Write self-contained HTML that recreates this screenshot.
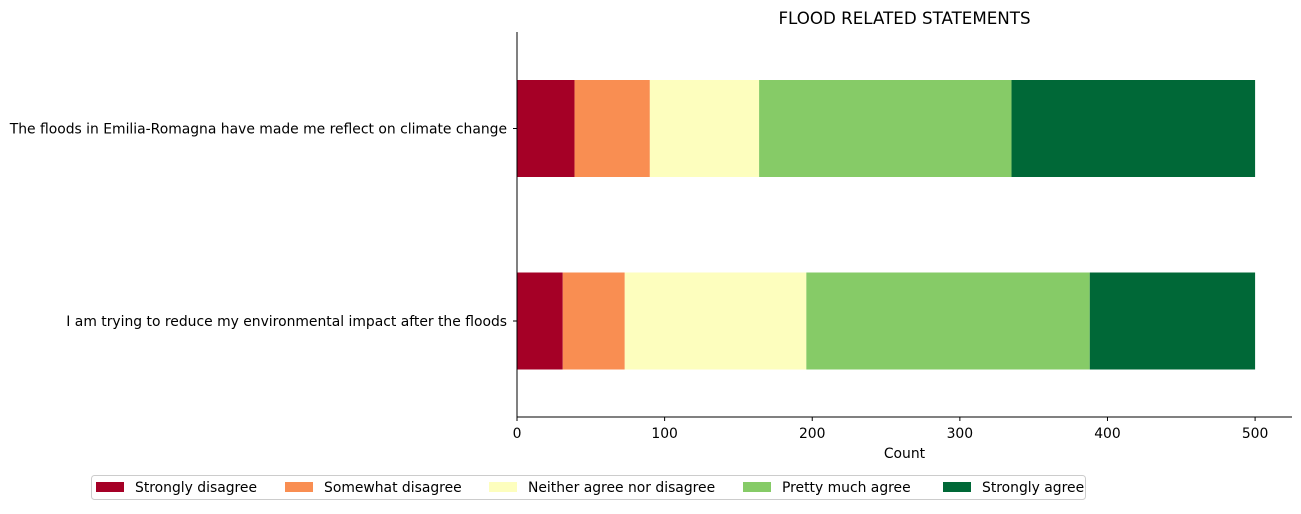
<!DOCTYPE html>
<html><head><meta charset="utf-8"><style>
body{margin:0;background:#fff;font-family:"DejaVu Sans",sans-serif;}
</style></head><body>
<svg width="1301" height="510" xmlns="http://www.w3.org/2000/svg" font-family="DejaVu Sans, sans-serif">
<g id="plot"></g>
</svg>
<script>
const categories=["The floods in Emilia-Romagna have made me reflect on climate change","I am trying to reduce my environmental impact after the floods"];
const seriesNames=["Strongly disagree","Somewhat disagree","Neither agree nor disagree","Pretty much agree","Strongly agree"];
const stronglyDisagree=[39,31];
const somewhatDisagree=[51,42];
const neither=[74,123];
const prettyMuch=[171,192];
const stronglyAgree=[165,112];
const ticks=[0,100,200,300,400,500];
const colors=["#a50026","#f98e52","#fdfebe","#86cb67","#006837"];
const series=[stronglyDisagree,somewhatDisagree,neither,prettyMuch,stronglyAgree];
const L=517,R=1292,T=32,B=417,xmax=525;
const x=v=>L+v/xmax*(R-L);
const yc=[128.5,321];const bh=97;
const NS="http://www.w3.org/2000/svg";
const g=document.getElementById('plot');
function mk(t,a,txt){const e=document.createElementNS(NS,t);for(const k in a)e.setAttribute(k,a[k]);if(txt!==undefined)e.textContent=txt;g.appendChild(e);return e;}
categories.forEach((c,i)=>{let acc=0;series.forEach((s,j)=>{
const r=mk('rect',{x:x(acc),y:yc[i]-bh/2,width:x(acc+s[i])-x(acc),height:bh,fill:colors[j]});


acc+=s[i];});
const lbl=mk('text',{x:L-10,y:yc[i]+5,'text-anchor':'end','font-size':13.9},c);


mk('line',{x1:L-4,x2:L,y1:yc[i],y2:yc[i],stroke:'#000'});
});
mk('line',{x1:L,x2:L,y1:T,y2:B,stroke:'#000'});
mk('line',{x1:L,x2:R,y1:B,y2:B,stroke:'#000'});
ticks.forEach(t=>{mk('line',{x1:x(t),x2:x(t),y1:B,y2:B+4,stroke:'#000'});
const tl=mk('text',{x:x(t),y:B+21,'text-anchor':'middle','font-size':13.9},t);

});
const xt=mk('text',{x:(L+R)/2,y:458,'text-anchor':'middle','font-size':13.9},'Count');


const ti=mk('text',{x:(L+R)/2,y:24,'text-anchor':'middle','font-size':16.7},'FLOOD RELATED STATEMENTS');


const lb=mk('rect',{x:91.5,y:475.5,width:994,height:24,fill:'#fff',stroke:'#ccc',rx:3});


const lx=[96,285,489,743,943];
seriesNames.forEach((n,j)=>{
mk('rect',{x:lx[j],y:482,width:28,height:10,fill:colors[j]});
const t=mk('text',{x:lx[j]+39,y:492,'font-size':13.9},n);

});
</script>
</body></html>
